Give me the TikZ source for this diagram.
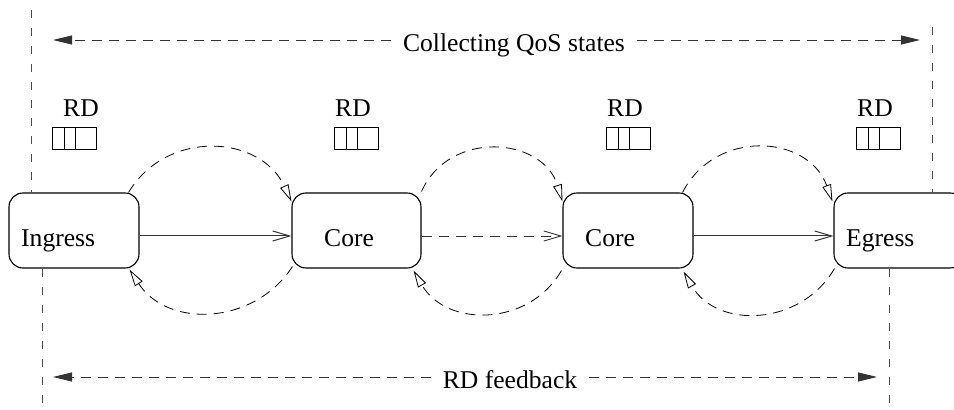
\documentclass[tikz,border=0pt]{standalone}
\usepackage{fontspec}
\setmainfont{Liberation Serif}
\usetikzlibrary{arrows.meta,calc}
\begin{document}
\begin{tikzpicture}[x=1pt,y=1pt,
  font=\fontsize{25.6}{30}\selectfont,
  station/.style={draw, line width=1.1pt, rounded corners=14pt,
    minimum width=130pt, minimum height=75pt, inner sep=0pt},
  caption/.style={anchor=base west, inner sep=0pt},
  fdash/.style={dash pattern=on 10pt off 7pt, line width=0.9pt},
  vguide/.style={dash pattern=on 8pt off 10pt, line width=1pt, black!70},
  span/.style={fdash, black!80, -{Triangle[length=19pt,width=9pt]}},
  hop/.style={line width=1pt, black!80, -{Straight Barb[length=17pt,width=10pt]}},
  probe/.style={fdash, line width=0.8pt, -{Triangle[open,length=17pt,width=9pt]}},
  queue/.pic={
    \draw[line width=0.8pt] (0,0) rectangle (44,22);
    \draw[line width=0.8pt] (12,0) -- (12,22) (23,0) -- (23,22);
  },
]
\useasboundingbox (0,0) rectangle (954,410);
\clip (0,0) rectangle (954,410);

% routers along the path
\node[station] (ing) at (74,179.5) {};
\node[station, minimum width=129pt] (c1) at (356.5,179.5) {};
\node[station] (c2) at (628,179.5) {};
\node[station] (eg) at (899,179.5) {};

\node[caption] (ingt) at (21,163.5) {Ingress};
\node[caption] (c1t) at (324,163.5) {Core};
\node[caption] (c2t) at (585,163.5) {Core};
\node[caption] (egt) at (846,163.5) {Egress};

% data path
\draw[hop] ([yshift=-5.5pt]ing.east) -- ([yshift=-5.5pt]c1.west);
\draw[hop, fdash] ([yshift=-5.5pt]c1.east) -- ([yshift=-5.5pt]c2.west);
\draw[hop] ([yshift=-5.5pt]c2.east) -- ([yshift=-5.5pt]eg.west);

% hop-by-hop probing loops
\draw[probe] ($(ing.north east)+(-11,0)$) to[out=59,in=115,looseness=1.16] ($(c1.north west)+(0,-9)$);
\draw[probe] ($(c1.south west)+(1,2)$) to[out=-123,in=-57,looseness=1.10] ($(ing.south east)+(-10,-1)$);
\draw[probe] ($(c1.north east)+(0,1)$) to[out=66,in=107,looseness=1.23] ($(c2.north west)+(0,-9)$);
\draw[probe] ($(c2.south west)+(-1,-2)$) to[out=-120,in=-60,looseness=1.135] ($(c1.south east)+(-8,-2)$);
\draw[probe] ($(c2.north east)+(-11,0)$) to[out=63,in=110,looseness=1.22] ($(eg.north west)+(-1,-9)$);
\draw[probe] ($(eg.south west)+(1,0)$) to[out=-120,in=-60,looseness=1.13] ($(c2.south east)+(-10,-3)$);

% domain boundaries
\coordinate (gTL) at (31,400);
\draw[vguide] (gTL) -- (gTL |- ing.north);
\coordinate (gBL) at (42,0);
\draw[vguide] (ing.south -| gBL) -- (gBL);
\coordinate (gTR) at (932,383);
\draw[vguide] (gTR) -- (gTR |- eg.north);
\coordinate (gBR) at (889,0);
\draw[vguide] (eg.south -| gBR) -- (gBR);

% end-to-end spans
\node[anchor=base, inner xsep=12pt, inner ysep=0pt] (qos) at (514,358) {Collecting QoS states};
\coordinate (qL) at (53,370);
\coordinate (qR) at (920,370);
\draw[span] (qos.west |- qL) -- (qL);
\draw[span] (qos.east |- qR) -- (qR);

\node[anchor=base, inner xsep=12pt, inner ysep=0pt] (fb) at (510,21) {RD feedback};
\coordinate (fL) at (53,33);
\coordinate (fR) at (877,33);
\draw[span] (fb.west |- fL) -- (fL);
\draw[span] (fb.east |- fR) -- (fR);

% resource databases
\node[caption] (rd1) at (63,293) {RD};
\node[caption] (rd2) at (335,293) {RD};
\node[caption] (rd3) at (607,293) {RD};
\node[caption] (rd4) at (857,293) {RD};
\pic at (52,261) {queue};
\pic at (334,261) {queue};
\pic at (606,261) {queue};
\pic at (856,261) {queue};
\end{tikzpicture}
\end{document}
